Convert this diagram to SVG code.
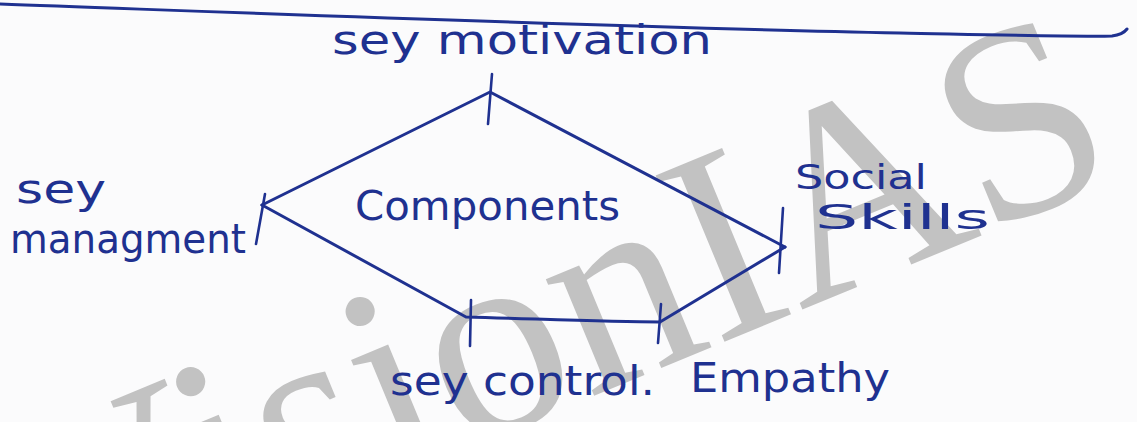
<svg xmlns="http://www.w3.org/2000/svg" width="1137" height="422" viewBox="0 0 1137 422">
  <style>
    .ink { fill: none; stroke: #1f3190; stroke-width: 3; stroke-linecap: round; stroke-linejoin: round; }
    .tick { fill: none; stroke: #1f3190; stroke-width: 2.6; stroke-linecap: round; }
    .label { fill: #1f3190; font-family: "DejaVu Sans", "Liberation Sans", sans-serif; font-size: 40px; }
    .small { font-size: 34px; }
    .mark { fill: #c2c2c2; font-family: "Liberation Serif", "Times New Roman", serif; font-size: 275px; }
  </style>

  <!-- paper -->
  <rect x="0" y="0" width="1137" height="422" fill="#fbfbfc"/>

  <!-- watermark -->
  <g id="watermark" transform="translate(53,620) rotate(-22.5)">
    <text class="mark" x="0" y="0">VisionIAS</text>
  </g>

  <!-- heading rule at the top of the page -->
  <path class="ink" d="M0,4 C250,13 600,27 900,33 C1000,35 1080,37 1112,36 C1120,35 1124,33 1127,29"/>

  <!-- connectors: the outline joining the components -->
  <g id="connectors">
    <path class="ink" d="M262,205 L490,92 L785,247"/>
    <path class="ink" d="M262,205 L466,317 C540,319 610,322 660,322 L785,247"/>
    <line class="tick" x1="492" y1="74" x2="488" y2="124"/>
    <line class="tick" x1="265" y1="194" x2="256" y2="244"/>
    <line class="tick" x1="783" y1="208" x2="779" y2="273"/>
    <line class="tick" x1="471" y1="300" x2="470" y2="346"/>
    <line class="tick" x1="661" y1="304" x2="658" y2="343"/>
  </g>

  <g id="node-center">
    <text class="label" x="355" y="220" textLength="265" lengthAdjust="spacingAndGlyphs">Components</text>
  </g>
  <g id="node-self-motivation">
    <text class="label" x="332" y="54" textLength="380" lengthAdjust="spacingAndGlyphs">sey motivation</text>
  </g>
  <g id="node-self-management">
    <text class="label" x="16" y="203" textLength="90" lengthAdjust="spacingAndGlyphs">sey</text>
    <text class="label" x="10" y="253" textLength="236" lengthAdjust="spacingAndGlyphs">managment</text>
  </g>
  <g id="node-social-skills">
    <text class="label small" x="795" y="189" textLength="132" lengthAdjust="spacingAndGlyphs">Social</text>
    <text class="label small" x="815" y="229" textLength="175" lengthAdjust="spacingAndGlyphs">Skills</text>
  </g>
  <g id="node-self-control">
    <text class="label" x="390" y="395" textLength="265" lengthAdjust="spacingAndGlyphs">sey control.</text>
  </g>
  <g id="node-empathy">
    <text class="label" x="690" y="392" textLength="200" lengthAdjust="spacingAndGlyphs">Empathy</text>
  </g>
</svg>
